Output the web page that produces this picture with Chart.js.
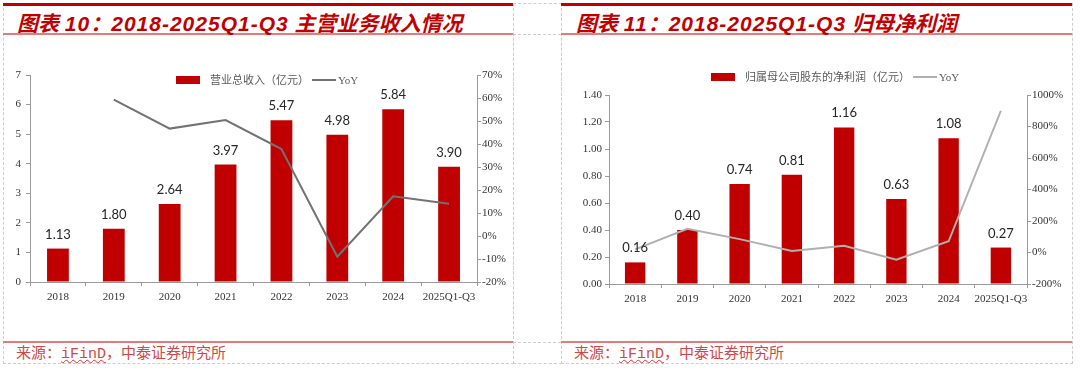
<!DOCTYPE html>
<html>
<head>
<meta charset="utf-8">
<script src="https://cdn.jsdelivr.net/npm/chart.js@4.4.1/dist/chart.umd.min.js"></script>
<style>
    body { margin: 0; width: 1080px; height: 372px; background: #fff; position: relative; overflow: hidden; }
    .cell { position: absolute; box-sizing: border-box; border: 1px dashed #cdcdcd; }
    .hdash { position: absolute; height: 0; border-top: 1px dashed #cdcdcd; }
    .bar-top { position: absolute; height: 3px; background: #c00000; }
    .rule { position: absolute; height: 2px; background: #e27b7b; }
    .title { position: absolute; top: 7px; font: italic bold 21px "Liberation Sans", "Noto Sans CJK SC"; color: #c00000; white-space: nowrap; }
    .title .lat { letter-spacing: 1px; }
    .source { position: absolute; top: 341px; font: 15px "Noto Sans CJK SC"; color: #d04848; white-space: nowrap; }
    .source .ifind { font-family: "Liberation Mono"; text-decoration: underline wavy #e03030; text-decoration-thickness: 1px; }
    canvas { position: absolute; }
</style>
</head>
<body>
<div class="cell" style="left:3px;top:3px;width:511px;height:361px"></div>
<div class="cell" style="left:513px;top:3px;width:49px;height:361px"></div>
<div class="cell" style="left:561px;top:3px;width:512px;height:361px"></div>
<div class="hdash" style="left:513px;top:34px;width:48px"></div>
<div class="hdash" style="left:513px;top:342px;width:48px"></div>

<div class="bar-top" style="left:3px;top:3px;width:510px"></div>
<div class="rule" style="left:3px;top:33px;width:510px"></div>
<div class="rule" style="left:3px;top:341px;width:510px"></div>
<div class="bar-top" style="left:561px;top:3px;width:511px"></div>
<div class="rule" style="left:561px;top:33px;width:511px"></div>
<div class="rule" style="left:561px;top:341px;width:511px"></div>

<div class="title" style="left:17px">图表 <span class="lat">10</span>：<span class="lat">2018-2025Q1-Q3</span> 主营业务收入情况</div>
<div class="title" style="left:576px">图表 <span class="lat">11</span>：<span class="lat">2018-2025Q1-Q3</span> 归母净利润</div>

<canvas id="revenueChart" width="510" height="306" style="left:3px;top:35px"></canvas>
<canvas id="profitChart" width="511" height="306" style="left:561px;top:35px"></canvas>

<div class="source" style="left:16px">来源：<span class="ifind">iFinD</span>，中泰证券研究所</div>
<div class="source" style="left:574px">来源：<span class="ifind">iFinD</span>，中泰证券研究所</div>

<script>
const years = ['2018', '2019', '2020', '2021', '2022', '2023', '2024', '2025Q1-Q3'];

// 营业总收入（亿元）及同比
const revenue = [1.13, 1.80, 2.64, 3.97, 5.47, 4.98, 5.84, 3.90];
const revenueYoy = [null, 59.3, 46.7, 50.4, 37.8, -9.0, 17.3, 14.0];

// 归母净利润（亿元）及同比
const profit = [0.16, 0.40, 0.74, 0.81, 1.16, 0.63, 1.08, 0.27];
const profitYoy = [20, 150, 85, 9.5, 43, -45.7, 71, 900];

const RED = '#c00000';
const AXIS = '#9a9a9a';
const tickFont = { family: 'Liberation Serif', size: 11 };

// value labels above the bars
const barLabels = {
    id: 'barLabels',
    afterDatasetsDraw(chart) {
        const { ctx } = chart;
        const ds = chart.data.datasets[0];
        ctx.save();
        ctx.font = '13px Lato';
        ctx.fillStyle = '#262626';
        ctx.textAlign = 'center';
        ctx.textBaseline = 'alphabetic';
        chart.getDatasetMeta(0).data.forEach((bar, i) => {
            ctx.fillText(ds.data[i].toFixed(2), bar.x, bar.y - 10);
        });
        ctx.restore();
    }
};

// legend drawn inside the plot like the source chart
const insideLegend = {
    id: 'insideLegend',
    afterDraw(chart, args, opts) {
        const { ctx } = chart;
        const [bars, line] = chart.data.datasets;
        let x = opts.x;
        const y = opts.y;
        ctx.save();
        ctx.fillStyle = bars.backgroundColor;
        ctx.fillRect(x, y - 4, 24, 8);
        x += 34;
        ctx.font = '11px "Noto Sans CJK SC"';
        ctx.fillStyle = '#595959';
        ctx.textBaseline = 'middle';
        ctx.fillText(bars.label, x, y);
        x += ctx.measureText(bars.label).width + 3;
        ctx.strokeStyle = line.borderColor;
        ctx.lineWidth = 2;
        ctx.beginPath();
        ctx.moveTo(x, y);
        ctx.lineTo(x + 24, y);
        ctx.stroke();
        ctx.font = '11px "Liberation Serif"';
        ctx.fillText(line.label, x + 26, y + 1);
        ctx.restore();
    }
};

function makeChart(id, cfg) {
    const ctx = document.getElementById(id).getContext('2d');
    return new Chart(ctx, {
        type: 'bar',
        data: {
            labels: years,
            datasets: [{
                label: cfg.barLabel,
                data: cfg.bars,
                backgroundColor: RED,
                barPercentage: 0.39,
                categoryPercentage: 1,
                yAxisID: 'y',
                order: 1
            }, {
                type: 'line',
                label: 'YoY',
                data: cfg.yoy,
                borderColor: cfg.lineColor,
                borderWidth: 2,
                pointRadius: 0,
                tension: 0,
                yAxisID: 'y1',
                order: 0
            }]
        },
        options: {
            responsive: false,
            animation: false,
            layout: { padding: { top: cfg.top, left: 0, right: 0, bottom: 0 } },
            plugins: {
                legend: { display: false },
                tooltip: { enabled: false },
                insideLegend: cfg.legend
            },
            scales: {
                x: {
                    grid: { offset: true, drawOnChartArea: false, tickLength: 4, color: AXIS },
                    border: { color: AXIS },
                    ticks: { font: tickFont, color: '#333', padding: 5, maxRotation: 0, autoSkip: false },
                    afterFit(s) { s.height = cfg.xHeight; }
                },
                y: {
                    position: 'left',
                    min: cfg.yMin, max: cfg.yMax,
                    grid: { drawOnChartArea: false, tickLength: 4, color: AXIS },
                    border: { color: AXIS },
                    ticks: { stepSize: cfg.yStep, font: tickFont, color: '#333', padding: cfg.yPad, callback: cfg.yFmt },
                    afterFit(s) { s.width = cfg.yWidth; }
                },
                y1: {
                    position: 'right',
                    min: cfg.y1Min, max: cfg.y1Max,
                    grid: { drawOnChartArea: false, tickLength: 4, color: AXIS },
                    border: { color: AXIS },
                    ticks: { stepSize: cfg.y1Step, font: tickFont, color: '#333', padding: 1, callback: v => v + '%' },
                    afterFit(s) { s.width = cfg.y1Width; }
                }
            }
        },
        plugins: [barLabels, insideLegend]
    });
}

makeChart('revenueChart', {
    barLabel: '营业总收入（亿元）',
    bars: revenue,
    yoy: revenueYoy,
    lineColor: '#727272',
    yMin: 0, yMax: 7, yStep: 1, yFmt: v => v,
    y1Min: -20, y1Max: 70, y1Step: 10,
    top: 40, xHeight: 59, yWidth: 27, y1Width: 36, yPad: 5,
    legend: { x: 173, y: 45 }
});

makeChart('profitChart', {
    barLabel: '归属母公司股东的净利润（亿元）',
    bars: profit,
    yoy: profitYoy,
    lineColor: '#b0b0b0',
    yMin: 0, yMax: 1.4, yStep: 0.2, yFmt: v => v.toFixed(2),
    y1Min: -200, y1Max: 1000, y1Step: 200,
    top: 60, xHeight: 57, yWidth: 48, y1Width: 45, yPad: 3,
    legend: { x: 150, y: 42 }
});
</script>
</body>
</html>
